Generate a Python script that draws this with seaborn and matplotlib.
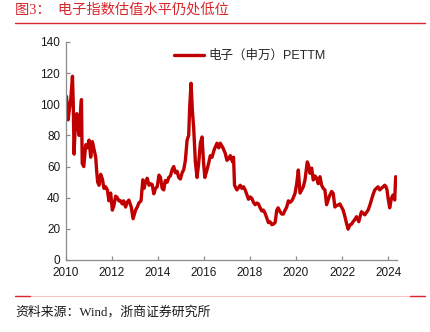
import matplotlib
matplotlib.use("Agg")
import matplotlib.pyplot as plt
import seaborn as sns
import pandas as pd

# 电子（申万）PE TTM, sampled along the time axis (decimal years)
years = [
    2010.03, 2010.065, 2010.10, 2010.15, 2010.216, 2010.29, 2010.325, 2010.36, 2010.41, 2010.476,
    2010.52, 2010.576, 2010.628, 2010.68, 2010.714, 2010.78, 2010.866, 2010.93, 2011.009, 2011.082,
    2011.156, 2011.212, 2011.299, 2011.342, 2011.385, 2011.442, 2011.515, 2011.589, 2011.658, 2011.732,
    2011.805, 2011.874, 2011.948, 2012.022, 2012.091, 2012.165, 2012.238, 2012.307, 2012.381, 2012.455,
    2012.511, 2012.597, 2012.662, 2012.74, 2012.844, 2012.922, 2013.03, 2013.104, 2013.173, 2013.268,
    2013.346, 2013.398, 2013.463, 2013.537, 2013.615, 2013.68, 2013.753, 2013.823, 2013.896, 2013.97,
    2014.048, 2014.113, 2014.186, 2014.255, 2014.32, 2014.403, 2014.472, 2014.545, 2014.619, 2014.688,
    2014.762, 2014.835, 2014.905, 2014.978, 2015.052, 2015.121, 2015.195, 2015.268, 2015.338, 2015.381,
    2015.442, 2015.498, 2015.554, 2015.628, 2015.701, 2015.771, 2015.844, 2015.918, 2015.987, 2016.039,
    2016.134, 2016.203, 2016.277, 2016.351, 2016.45, 2016.567, 2016.645, 2016.71, 2016.827, 2016.926,
    2017.0, 2017.069, 2017.143, 2017.242, 2017.286, 2017.329, 2017.433, 2017.576, 2017.649, 2017.719,
    2017.792, 2017.935, 2018.009, 2018.082, 2018.152, 2018.225, 2018.299, 2018.368, 2018.442, 2018.515,
    2018.584, 2018.658, 2018.732, 2018.801, 2018.874, 2018.948, 2019.017, 2019.091, 2019.165, 2019.221,
    2019.307, 2019.381, 2019.45, 2019.524, 2019.597, 2019.667, 2019.74, 2019.814, 2019.883, 2019.957,
    2020.03, 2020.10, 2020.173, 2020.247, 2020.316, 2020.39, 2020.489, 2020.541, 2020.606, 2020.68,
    2020.749, 2020.823, 2020.896, 2020.965, 2021.039, 2021.113, 2021.182, 2021.255, 2021.329, 2021.385,
    2021.442, 2021.545, 2021.615, 2021.688, 2021.762, 2021.831, 2021.905, 2021.978, 2022.048, 2022.121,
    2022.195, 2022.264, 2022.338, 2022.411, 2022.48, 2022.554, 2022.628, 2022.727, 2022.784, 2022.844,
    2022.913, 2022.987, 2023.061, 2023.13, 2023.203, 2023.277, 2023.346, 2023.42, 2023.494, 2023.563,
    2023.636, 2023.71, 2023.779, 2023.853, 2023.909, 2023.952, 2023.996, 2024.069, 2024.143, 2024.212,
    2024.286, 2024.329, 2024.372,
]
pe_ttm = [
    105, 99, 90, 96, 103, 118, 100, 68, 86, 94,
    86, 80, 93, 103, 62, 60, 74, 72, 77, 66,
    76, 72, 66, 57, 50, 48, 55, 52, 46, 47,
    45, 38, 43, 32, 35, 41, 40, 38, 38, 36,
    38, 34, 37, 38.5, 34, 26.5, 32, 34, 36.6, 38,
    51.5, 46, 50, 52.5, 48, 49, 48.4, 42.5, 46, 47,
    54.5, 53, 46, 45, 51, 50, 53, 54, 58, 60,
    56, 57, 53, 52, 56, 58, 64, 77, 80, 98,
    113.5, 96, 85, 63, 53, 62, 75, 79, 62, 53,
    58, 62, 67, 66, 71, 75, 72, 75, 72, 68.5,
    64, 65, 67, 63, 66, 48, 45, 48, 46, 47,
    45, 39, 40.5, 39.5, 37, 35.5, 36.6, 36, 33.5, 31.5,
    32, 30, 27, 24, 24.5, 22.7, 23, 24, 32, 33.5,
    31, 29.5, 29.5, 32, 34, 38, 37, 38, 40, 42.8,
    49, 57.8, 43, 45, 47, 51.4, 63, 61, 55.7, 59,
    51.4, 54, 52.5, 49, 53.5, 48, 46, 45, 35.5, 38,
    40.7, 44, 42.8, 34, 35, 35.3, 36, 34, 32, 28,
    23.5, 19.8, 22.5, 23, 24.6, 26, 27.8, 24.6, 28, 31,
    30, 29, 30.5, 32, 35, 38.5, 42, 45, 46, 47,
    45, 46, 47, 48, 47, 45, 40, 33.5, 39.6, 41.7,
    38.5, 53.5, 52,
]
series_name = "电子（申万）PETTM"
x_ticks = [2010, 2012, 2014, 2016, 2018, 2020, 2022, 2024]
y_ticks = [0, 20, 40, 60, 80, 100, 120, 140]

title_text = "图3：  电子指数估值水平仍处低位"
source_text = "资料来源：Wind，浙商证券研究所"

df = pd.DataFrame({"year": years, "pe": pe_ttm})

sns.set_theme(style="ticks")
plt.rcParams["font.family"] = ["Liberation Sans", "Noto Sans CJK SC", "DejaVu Sans"]

RED_LINE = "#C00000"
RED_RULE = "#D9262B"

fig = plt.figure(figsize=(4.30, 3.32), dpi=100)
ax = fig.add_axes([0.153, 0.2169, 0.771, 0.6566])

sns.lineplot(data=df, x="year", y="pe", ax=ax, color=RED_LINE,
             linewidth=2.4, label=series_name, sort=True)

ax.set_xlim(2010, 2024.4)
ax.set_ylim(0, 140)
ax.set_xticks(x_ticks)
ax.set_yticks(y_ticks)
ax.set_xticklabels([str(t) for t in x_ticks])
ax.set_yticklabels([str(t) for t in y_ticks])
ax.set_xlabel("")
ax.set_ylabel("")

for side in ("top", "right"):
    ax.spines[side].set_visible(False)
for side in ("left", "bottom"):
    ax.spines[side].set_color("#8C8C8C")
    ax.spines[side].set_linewidth(0.9)
ax.tick_params(axis="both", direction="in", length=3, width=0.9,
               color="#8C8C8C", labelsize=8.5, labelcolor="#1A1A1A", pad=4)
ax.tick_params(axis="x", pad=5)

leg = ax.legend(loc="center left", bbox_to_anchor=(0.325, 0.936), frameon=False,
                borderaxespad=0, borderpad=0, handlelength=2.4, handletextpad=0.4,
                prop={"family": ["Liberation Sans", "Noto Sans CJK SC"], "size": 9})

# header and footer
fig.text(15 / 430, 1 - 10 / 332, title_text, color=RED_RULE, fontsize=10.3,
         family=["Liberation Serif", "Noto Sans CJK SC"], va="center", ha="left")
fig.add_artist(plt.Line2D([15 / 430, 425 / 430], [1 - 22.5 / 332, 1 - 22.5 / 332],
                          color=RED_RULE, linewidth=1.0, transform=fig.transFigure))
fig.add_artist(plt.Line2D([15 / 430, 425 / 430], [1 - 296 / 332, 1 - 296 / 332],
                          color="#F2C4C6", linewidth=0.8, transform=fig.transFigure))
for x0, x1 in ((15, 30), (410, 425)):
    fig.add_artist(plt.Line2D([x0 / 430, x1 / 430], [1 - 296 / 332, 1 - 296 / 332],
                              color=RED_RULE, linewidth=1.0, transform=fig.transFigure))
fig.text(15 / 430, 1 - 312 / 332, source_text, color="#1A1A1A", fontsize=9.3,
         family=["Liberation Serif", "Noto Sans CJK SC"], va="center", ha="left")

fig.savefig("out.png", dpi=100)
